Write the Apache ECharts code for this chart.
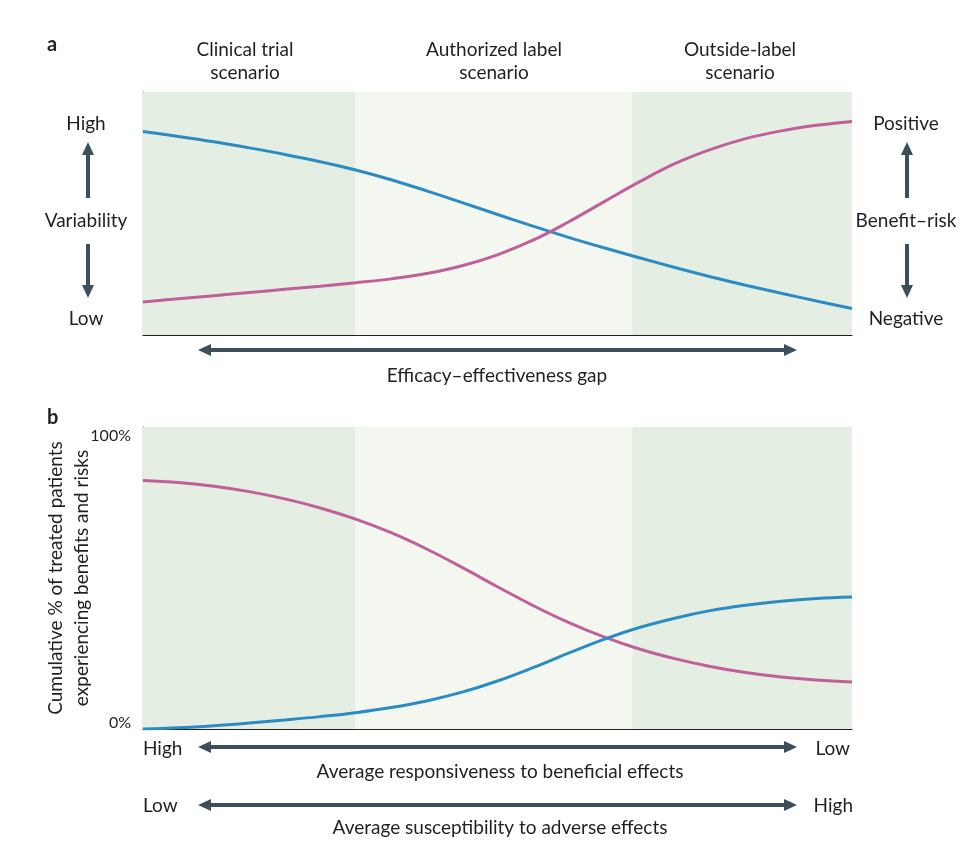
<!DOCTYPE html>
<html>
<head>
<meta charset="utf-8">
<script src="https://cdn.jsdelivr.net/npm/echarts@6/dist/echarts.min.js"></script>
<style>
html,body{margin:0;padding:0;background:#fff;}
#chart{width:960px;height:850px;}
</style>
</head>
<body>
<div id="chart"></div>
<script>
// ---- data ----
const xSteps = [0,5,10,15,20,25,30,35,40,45,50,55,60,65,70,75,80,85,90,95,100];
const benefitRiskA = [83.7,81.7,79.5,77.0,74.3,71.3,67.9,63.9,59.3,54.5,49.6,44.8,40.2,35.9,31.8,27.8,24.0,20.5,17.2,14.0,10.9];
const variabilityA = [13.6,14.9,16.2,17.5,18.8,20.1,21.5,23.1,25.3,28.5,33.0,39.0,46.5,54.8,63.0,70.5,76.3,80.8,84.0,86.3,87.9];
const benefitsB = [82.3,81.6,80.4,78.6,76.2,73.2,69.5,65.0,59.6,53.5,47.1,40.9,35.3,30.5,26.5,23.3,20.7,18.7,17.2,16.2,15.6];
const risksB = [0,0.4,1.1,2.0,3.0,4.1,5.4,7.1,9.3,12.2,15.9,20.3,25.1,29.7,33.6,36.7,39.2,41.0,42.3,43.2,43.7];
const bandEdges = [0, 30, 69, 100];
const scenarioNames = ['Clinical trial\nscenario', 'Authorized label\nscenario', 'Outside-label\nscenario'];
const yTicksB = [0, 100];

const BLUE = '#2b8cc4', PINK = '#c0609a', INK = '#231f20', ARROW = '#3d4f5a';
const BAND_DARK = '#e5eee2', BAND_LIGHT = '#f3f7f0';
const FONT = 'Lato';
const FS = 19;

function pairs(ys){ return xSteps.map((x,i)=>[x, ys[i]]); }
function bands(){
  const cols = [BAND_DARK, BAND_LIGHT, BAND_DARK];
  return { silent:true, data: cols.map((c,i)=>[{xAxis:bandEdges[i], itemStyle:{color:c}},{xAxis:bandEdges[i+1]}]) };
}

const chart = echarts.init(document.getElementById('chart'), null, {renderer:'canvas'});

function text(x,y,t,opts){
  return {type:'text', x:x, y:y, style:Object.assign({text:t, fill:INK, font:FS+'px '+FONT, textAlign:'center', textVerticalAlign:'middle'}, opts||{})};
}
function hArrow(x1,x2,y){
  return [
    {type:'line', shape:{x1:x1+8,y1:y,x2:x2-8,y2:y}, style:{stroke:ARROW, lineWidth:4}},
    {type:'polygon', shape:{points:[[x1,y],[x1+13,y-6],[x1+13,y+6]]}, style:{fill:ARROW}},
    {type:'polygon', shape:{points:[[x2,y],[x2-13,y-6],[x2-13,y+6]]}, style:{fill:ARROW}}
  ];
}
function vArrow(x,yTail,yTip){
  const dir = yTip < yTail ? -1 : 1;
  return [
    {type:'line', shape:{x1:x,y1:yTail,x2:x,y2:yTip - dir*8}, style:{stroke:ARROW, lineWidth:4}},
    {type:'polygon', shape:{points:[[x,yTip],[x-6,yTip-dir*13],[x+6,yTip-dir*13]]}, style:{fill:ARROW}}
  ];
}

const graphics = [];
graphics.push({type:'text', x:47, y:45, style:{text:'a', fill:INK, font:'bold 20px '+FONT, textAlign:'left', textVerticalAlign:'middle'}});
graphics.push({type:'text', x:47, y:418, style:{text:'b', fill:INK, font:'bold 20px '+FONT, textAlign:'left', textVerticalAlign:'middle'}});
const headerX = [245, 494, 740];
scenarioNames.forEach((n,i)=>{
  graphics.push({type:'text', x:headerX[i], y:61, style:{text:n, fill:INK, font:FS+'px '+FONT, textAlign:'center', textVerticalAlign:'middle', lineHeight:23}});
});
// left side scale a
graphics.push(text(86,124,'High'));
graphics.push(text(86,221,'Variability'));
graphics.push(text(86,319,'Low'));
graphics.push(...vArrow(88,198,142));
graphics.push(...vArrow(88,244,298));
// right side scale a
graphics.push(text(906,124,'Positive'));
graphics.push(text(906,221,'Benefit\u2013risk'));
graphics.push(text(906,319,'Negative'));
graphics.push(...vArrow(907,198,142));
graphics.push(...vArrow(907,244,298));
// series labels
graphics.push(text(170,124,'Benefit\u2013risk',{textAlign:'left'}));
graphics.push(text(170,280,'Variability',{textAlign:'left'}));
graphics.push(text(185,467,'Benefits',{textAlign:'left'}));
graphics.push(text(842,582,'Risks',{textAlign:'right'}));
// gap arrow
graphics.push(...hArrow(198,797,350));
graphics.push(text(497,376,'Efficacy\u2013effectiveness gap'));
// bottom arrows
graphics.push(text(143,749,'High',{textAlign:'left'}));
graphics.push(text(850,749,'Low',{textAlign:'right'}));
graphics.push(...hArrow(198,797,747));
graphics.push(text(500,772,'Average responsiveness to beneficial effects'));
graphics.push(text(143,806,'Low',{textAlign:'left'}));
graphics.push(text(853,806,'High',{textAlign:'right'}));
graphics.push(...hArrow(198,797,805));
graphics.push(text(500,828,'Average susceptibility to adverse effects'));

const axisLineStyle = {show:true, lineStyle:{color:INK, width:1.2}};
const lineCommon = {type:'line', smooth:0.4, showSymbol:false, z:3};
const option = {
  animation:false,
  backgroundColor:'#ffffff',
  textStyle:{fontFamily:FONT},
  grid:[
    {left:143, top:92, width:709, height:243},
    {left:143, top:427, width:709, height:302}
  ],
  xAxis:[
    {gridIndex:0, type:'value', min:0, max:100, axisLine:axisLineStyle, axisTick:{show:false}, axisLabel:{show:false}, splitLine:{show:false}},
    {gridIndex:1, type:'value', min:0, max:100, axisLine:axisLineStyle, axisTick:{show:false}, axisLabel:{show:false}, splitLine:{show:false}}
  ],
  yAxis:[
    {gridIndex:0, type:'value', min:0, max:100, axisLine:axisLineStyle, axisTick:{show:false}, axisLabel:{show:false}, splitLine:{show:false}},
    {gridIndex:1, type:'value', min:yTicksB[0], max:yTicksB[1], interval:100, axisLine:axisLineStyle, axisTick:{show:false}, splitLine:{show:false},
     name:'Cumulative % of treated patients\nexperiencing benefits and risks', nameLocation:'middle', nameGap:48, nameRotate:90, nameMoveOverlap:false,
     nameTextStyle:{color:INK, fontSize:FS, fontFamily:FONT, lineHeight:26},
     axisLabel:{margin:12, color:INK, fontSize:16, fontFamily:FONT,
       formatter:function(v){ return v===0 ? '{lo|0%}' : '{hi|100%}'; },
       rich:{lo:{padding:[0,0,12,0], fontSize:16, color:INK, fontFamily:FONT}, hi:{padding:[18,0,0,0], fontSize:16, color:INK, fontFamily:FONT}}}}
  ],
  series:[
    Object.assign({name:'Benefit\u2013risk', xAxisIndex:0, yAxisIndex:0, data:pairs(benefitRiskA), lineStyle:{color:BLUE, width:3}, markArea:bands()}, lineCommon),
    Object.assign({name:'Variability', xAxisIndex:0, yAxisIndex:0, data:pairs(variabilityA), lineStyle:{color:PINK, width:3}}, lineCommon),
    Object.assign({name:'Benefits', xAxisIndex:1, yAxisIndex:1, data:pairs(benefitsB), lineStyle:{color:PINK, width:3}, markArea:bands()}, lineCommon),
    Object.assign({name:'Risks', xAxisIndex:1, yAxisIndex:1, data:pairs(risksB), lineStyle:{color:BLUE, width:3}}, lineCommon)
  ],
  graphic: graphics
};
chart.setOption(option);
</script>
</body>
</html>
